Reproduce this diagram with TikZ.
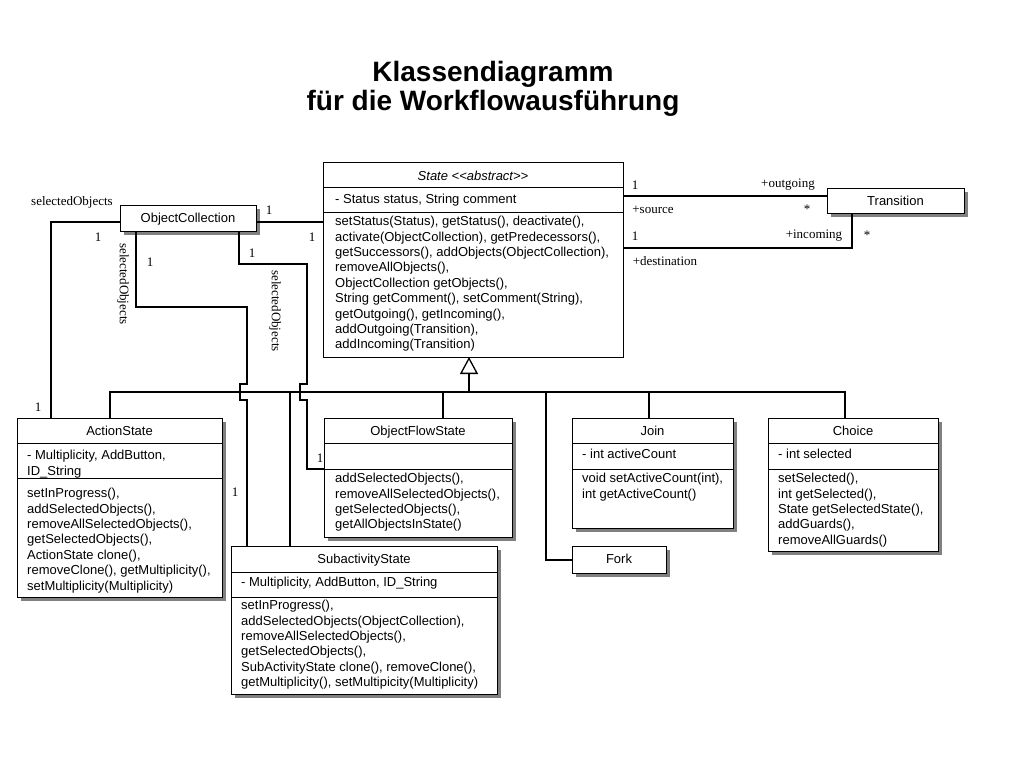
\documentclass[tikz,border=0pt]{standalone}
\usepackage{fontspec}
\setmainfont{Liberation Sans}
\newfontfamily\lblfont{Liberation Serif}
\usetikzlibrary{arrows.meta,shadows}
\newcommand{\fs}{\rule{0pt}{10pt}}
\begin{document}
\begin{tikzpicture}[x=1pt,y=-1pt,
  clsbase/.style={draw=black, line width=1pt, fill=white, anchor=north west, inner sep=0pt, outer sep=0pt},
  cls/.style={clsbase, drop shadow={shadow xshift=4pt, shadow yshift=-4pt, fill=black!50, opacity=1}},
  txt/.style={anchor=north west, inner sep=0pt, align=left, font=\fontsize{13}{15.4}\selectfont},
  ttl/.style={anchor=base, inner sep=0pt, font=\fontsize{13}{15.4}\selectfont},
  lbl/.style={inner sep=0pt, font=\lblfont\fontsize{13}{15}\selectfont},
  assoc/.style={line width=2pt},
  divline/.style={line width=1pt},
]
\useasboundingbox[fill=white] (0,0) rectangle (1024,768);

% title
\node[anchor=north, inner sep=0pt, align=center, font=\bfseries\fontsize{28}{29}\selectfont] (title) at (493,60) {\rule{0pt}{21pt}Klassendiagramm\\für die Workflowausführung};

% class boxes
\node[clsbase, minimum width=300pt, minimum height=195pt] (state) at (323,162) {};
\node[cls, minimum width=136pt, minimum height=26pt] (oc) at (120,205) {};
\node[cls, minimum width=137pt, minimum height=25pt] (trans) at (827,188) {};
\node[cls, minimum width=205pt, minimum height=179pt] (action) at (17,418) {};
\node[cls, minimum width=188pt, minimum height=119pt] (ofs) at (324,418) {};
\node[cls, minimum width=161pt, minimum height=110pt] (join) at (572,418) {};
\node[cls, minimum width=170pt, minimum height=133pt] (choice) at (768,418) {};
\node[cls, minimum width=94pt, minimum height=27pt] (fork) at (572,546) {};
\node[cls, minimum width=266pt, minimum height=148pt] (sub) at (231,546) {};

% compartment dividers
\draw[divline] (state.west |- 0,187) -- (state.east |- 0,187);
\draw[divline] (state.west |- 0,212) -- (state.east |- 0,212);
\draw[divline] (action.west |- 0,443) -- (action.east |- 0,443);
\draw[divline] (action.west |- 0,478) -- (action.east |- 0,478);
\draw[divline] (ofs.west |- 0,443) -- (ofs.east |- 0,443);
\draw[divline] (ofs.west |- 0,469) -- (ofs.east |- 0,469);
\draw[divline] (join.west |- 0,443) -- (join.east |- 0,443);
\draw[divline] (join.west |- 0,469) -- (join.east |- 0,469);
\draw[divline] (choice.west |- 0,443) -- (choice.east |- 0,443);
\draw[divline] (choice.west |- 0,469) -- (choice.east |- 0,469);
\draw[divline] (sub.west |- 0,572) -- (sub.east |- 0,572);
\draw[divline] (sub.west |- 0,597) -- (sub.east |- 0,597);

% texts
\node[ttl, font=\itshape\fontsize{13}{15.4}\selectfont] (stateT) at (473,180.5) {State <\kern0pt<abstract>\kern0pt>};
\node[txt] (stateA) at (335,193.5) {\fs- Status status, String comment};
\node[txt] (stateM) at (335,215.5) {\fs setStatus(Status), getStatus(), deactivate(),\\activate(ObjectCollection), getPredecessors(),\\getSuccessors(), addObjects(ObjectCollection),\\removeAllObjects(),\\ObjectCollection getObjects(),\\String getComment(), setComment(String),\\getOutgoing(), getIncoming(),\\addOutgoing(Transition),\\addIncoming(Transition)};

\node[ttl] (ocT) at (188,222.5) {ObjectCollection};
\node[ttl] (transT) at (895.5,205) {Transition};

\node[ttl] (actionT) at (119.5,435.5) {ActionState};
\node[txt] (actionA) at (27,449.5) {\fs- Multiplicity, AddButton,\\ID\_String};
\node[txt] (actionM) at (27,487.5) {\fs setInProgress(),\\addSelectedObjects(),\\removeAllSelectedObjects(),\\getSelectedObjects(),\\ActionState clone(),\\removeClone(), getMultiplicity(),\\setMultiplicity(Multiplicity)};

\node[ttl] (ofsT) at (418,435.5) {ObjectFlowState};
\node[txt] (ofsM) at (335,472.5) {\fs addSelectedObjects(),\\removeAllSelectedObjects(),\\getSelectedObjects(),\\getAllObjectsInState()};

\node[ttl] (joinT) at (652.5,435.5) {Join};
\node[txt] (joinA) at (582,448.5) {\fs- int activeCount};
\node[txt] (joinM) at (582,472.5) {\fs void setActiveCount(int),\\int getActiveCount()};

\node[ttl] (choiceT) at (853,435.5) {Choice};
\node[txt] (choiceA) at (778,448.5) {\fs- int selected};
\node[txt] (choiceM) at (778,472.5) {\fs setSelected(),\\int getSelected(),\\State getSelectedState(),\\addGuards(),\\removeAllGuards()};

\node[ttl] (forkT) at (619,563.5) {Fork};

\node[ttl] (subT) at (364,563.5) {SubactivityState};
\node[txt] (subA) at (241,576.5) {\fs- Multiplicity, AddButton, ID\_String};
\node[txt] (subM) at (241,599.5) {\fs setInProgress(),\\addSelectedObjects(ObjectCollection),\\removeAllSelectedObjects(),\\getSelectedObjects(),\\SubActivityState clone(), removeClone(),\\getMultiplicity(), setMultipicity(Multiplicity)};

% associations
\draw[assoc] (oc.east |- 0,222) -- (state.west |- 0,222);
\draw[assoc] (oc.west |- 0,222) -| (action.north -| 51,0);
\draw[assoc] (oc.south -| 136,0) |- (247,307) -- (247,384) -- (240,384) -- (240,400) -- (247,400) -- (sub.north -| 247,0);
\draw[assoc] (oc.south -| 239,0) |- (307,264) -- (307,384) -- (300,384) -- (300,400) -- (307,400) |- (ofs.west |- 0,469);
\draw[assoc] (state.east |- 0,196) -- (trans.west |- 0,196);
\draw[assoc] (state.east |- 0,248) -| (trans.south -| 852,0);

% generalization
\coordinate (busL) at (110,392);
\coordinate (busR) at (845,392);
\coordinate (busT) at (469,392);
\draw[assoc] (action.north -| busL) -- (busL) -- (busR) -- (choice.north -| busR);
\draw[assoc, -{Triangle[open, length=17pt, width=18pt, line width=1.3pt]}] (busT) -- (state.south -| busT);
\draw[assoc] (sub.north -| 290,0) -- (290,392);
\draw[assoc] (ofs.north -| 443,0) -- (443,392);
\draw[assoc] (546,392) |- (fork.west);
\draw[assoc] (join.north -| 649,0) -- (649,392);

% association labels
\node[lbl] (l1) at (269,210) {1};
\node[lbl] (l2) at (312,237) {1};
\node[lbl] (l3) at (72,202) {selectedObjects};
\node[lbl] (l4) at (98,237) {1};
\node[lbl] (l5) at (38,407) {1};
\node[lbl, rotate=-90] (l6) at (123,284) {selectedObjects};
\node[lbl] (l7) at (150,262) {1};
\node[lbl] (l8) at (235,492) {1};
\node[lbl] (l9) at (252,253) {1};
\node[lbl, rotate=-90] (l10) at (275,311) {selectedObjects};
\node[lbl] (l11) at (320,458) {1};
\node[lbl] (l12) at (635,185) {1};
\node[lbl] (l13) at (788,185) {+outgoing};
\node[lbl] (l14) at (653,210) {+source};
\node[lbl] (l15) at (807,209) {*};
\node[lbl] (l16) at (635,236) {1};
\node[lbl] (l17) at (814,236) {+incoming};
\node[lbl] (l18) at (867,235) {*};
\node[lbl] (l19) at (665,261) {+destination};
\end{tikzpicture}
\end{document}
